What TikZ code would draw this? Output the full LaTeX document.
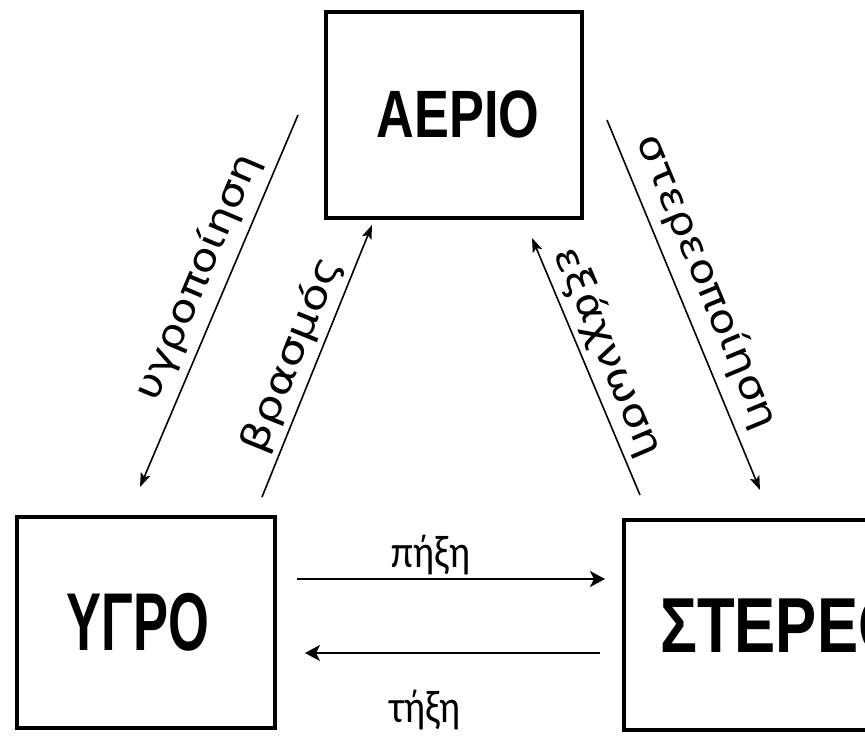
\documentclass[tikz,border=0pt]{standalone}
\usepackage{fontspec}
\usepackage{graphicx}
\setmainfont{Liberation Sans}
\newfontfamily\boxfont{Liberation Sans}
\newfontfamily\rotfont{DejaVu Sans}
\newfontfamily\horfont{Carlito}
\usetikzlibrary{arrows.meta}
\tikzset{
  statebox/.style={draw, line width=3.5pt, rectangle, inner sep=0pt},
  boxtext/.style={inner sep=0pt, font=\boxfont\bfseries},
  diagarrow/.style={line width=1.6pt, -{Stealth[length=14pt,width=10pt,inset=3pt]}},
  horarrow/.style={line width=2.6pt, -{Stealth[length=15pt,width=16pt,inset=4pt]}},
  rotlabel/.style={inner sep=0pt, font=\rotfont\fontsize{38}{42}\selectfont},
  horlabel/.style={inner sep=0pt, font=\horfont\fontsize{46}{50}\selectfont}
}
\newcommand{\widen}[1]{\scalebox{1.18}[1]{#1}}
\begin{document}
\begin{tikzpicture}[x=1pt,y=-1pt]
\useasboundingbox (0,0) rectangle (865,737);
\clip (0,0) rectangle (865,737);
\fill[white] (0,0) rectangle (865,737);
% boxes
\node[statebox, minimum width=256pt, minimum height=206pt] (gas) at (454,115) {};
\node[statebox, minimum width=258pt, minimum height=211pt] (liq) at (146,622.5) {};
\node[statebox, minimum width=302pt, minimum height=210pt] (sol) at (775,625) {};
% box texts
\node[boxtext] (gast) at (458,114) {\fontsize{67}{70}\selectfont\scalebox{0.78}[1]{ΑΕΡΙΟ}};
\node[boxtext] (liqt) at (138,622) {\fontsize{82}{86}\selectfont\scalebox{0.64}[1]{ΥΓΡΟ}};
\node[boxtext, anchor=west] (solt) at (660,626) {\fontsize{78}{82}\selectfont\scalebox{0.79}[1]{ΣΤΕΡΕΟ}};
% arrow end points
\coordinate (c1s) at (298,115);
\coordinate (c1e) at (140,487);
\coordinate (c2s) at (262,497);
\coordinate (c2e) at (372,225);
\coordinate (c3s) at (640,495);
\coordinate (c3e) at (532,238);
\coordinate (c4s) at (607,120);
\coordinate (c4e) at (760,490);
\coordinate (c5s) at (297,579);
\coordinate (c5e) at (605,579);
\coordinate (c6s) at (600,653);
\coordinate (c6e) at (305,653);
\draw[diagarrow] (c1s) -- (c1e);
\draw[diagarrow] (c2s) -- (c2e);
\draw[diagarrow] (c3s) -- (c3e);
\draw[diagarrow] (c4s) -- (c4e);
\draw[horarrow] (c5s) -- (c5e);
\draw[horarrow] (c6s) -- (c6e);
% labels
\node[rotlabel, rotate=67] (l1) at (198,277) {\widen{υγροποίηση}};
\node[rotlabel, rotate=68] (l2) at (292,355) {\scalebox{1.24}[1]{βρασμός}};
\node[rotlabel, rotate=-67] (l3) at (608,352) {\widen{εξάχνωση}};
\node[rotlabel, rotate=-67.5] (l4) at (707,282) {\widen{στερεοποίηση}};
\node[horlabel, anchor=base] (l5) at (431,567) {\scalebox{0.85}[1]{πήξη}};
\node[horlabel, anchor=base] (l6) at (425,722) {\scalebox{0.85}[1]{τήξη}};
\end{tikzpicture}
\end{document}
